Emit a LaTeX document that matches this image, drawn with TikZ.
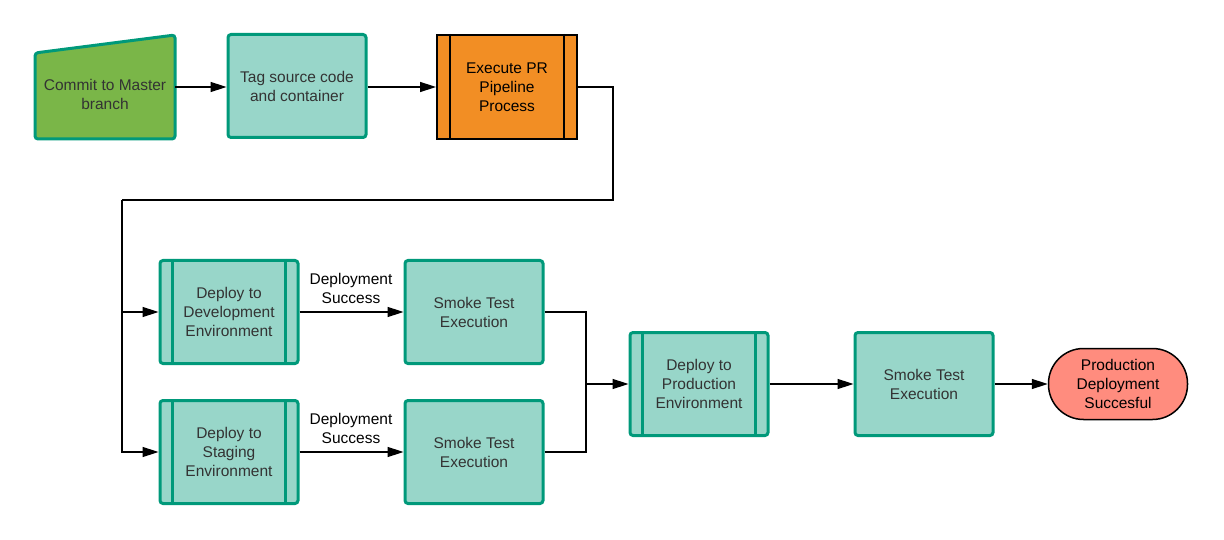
\documentclass[tikz,border=0pt]{standalone}
\usepackage{fontspec}
\setmainfont{Liberation Sans}
\usepackage{tikz}
\usepackage{xcolor}
\usetikzlibrary{arrows, arrows.meta, calc, positioning}

\definecolor{tealedge}{RGB}{0,153,122}
\definecolor{tealfill}{RGB}{152,214,201}
\definecolor{commitgreen}{RGB}{122,182,72}
\definecolor{prorange}{RGB}{242,142,36}
\definecolor{donered}{RGB}{255,140,126}
\definecolor{boxtext}{RGB}{51,51,51}

\begin{document}
\begin{tikzpicture}[x=1pt, y=-1pt,
    every node/.style={font=\fontsize{15.5}{19}\selectfont, align=center},
    task/.style={rectangle, rounded corners=3pt, draw=tealedge, line width=3pt, fill=tealfill,
        text=boxtext, minimum width=138pt, minimum height=103pt},
    prbox/.style={rectangle, draw=black, line width=2pt, fill=prorange,
        minimum width=140pt, minimum height=104pt},
    done/.style={rectangle, rounded corners=35pt, draw=black, line width=1.5pt, fill=donered,
        minimum width=139pt, minimum height=71pt},
    flow/.style={line width=1.5pt, -{Triangle[length=16pt, width=10pt]}},
    wire/.style={line width=1.5pt}]
    \useasboundingbox (0,0) rectangle (1224,540);

    % top row
    \fill[commitgreen, draw=tealedge, line width=3pt, rounded corners=3pt]
        (35,53) -- (175,35) -- (175,139) -- (35,139) -- cycle;
    \node[minimum width=140pt, minimum height=86pt, text=boxtext] (commit) at (105,94) {Commit to Master\\branch};
    \node[task] (tag) at (297,86) {Tag source code\\and container};
    \node[prbox] (pr) at (507,87) {Execute PR\\Pipeline\\Process};

    % deploy row
    \node[task] (dev) at (229,312) {Deploy to\\Development\\Environment};
    \node[task] (smokedev) at (474,312) {Smoke Test\\Execution};
    \node[task] (stage) at (229,452) {Deploy to\\Staging\\Environment};
    \node[task] (smokestage) at (474,452) {Smoke Test\\Execution};
    \node[task] (prod) at (699,384) {Deploy to\\Production\\Environment};
    \node[task] (smokeprod) at (924,384) {Smoke Test\\Execution};
    \node[done] (done) at (1118,384) {Production\\Deployment\\Succesful};

    % inner bars of the process boxes
    \draw[line width=2pt] ($(pr.north west)+(14,0)$) -- ($(pr.south west)+(14,0)$)
        ($(pr.north east)+(-14,0)$) -- ($(pr.south east)+(-14,0)$);
    \foreach \n in {dev, stage, prod}
        \draw[tealedge, line width=3pt] ($(\n.north west)+(14,0)$) -- ($(\n.south west)+(14,0)$)
            ($(\n.north east)+(-14,0)$) -- ($(\n.south east)+(-14,0)$);

    \coordinate (split) at (122,200);
    \coordinate (join) at (586,384);

    \node (lbldev) at (351,288) {Deployment\\Success};
    \node (lblstage) at (351,428) {Deployment\\Success};

    \draw[flow] (commit.east |- 0,87) -- (tag.west |- 0,87);
    \draw[flow] (tag.east |- 0,87) -- (pr.west);
    \draw[wire] (pr.east) -| (613,200) -- (split);
    \draw[flow] (split) |- (dev.west);
    \draw[flow] (split) |- (stage.west);
    \draw[flow] (dev) -- (smokedev);
    \draw[flow] (stage) -- (smokestage);
    \draw[wire] (smokedev.east) -| (join);
    \draw[wire] (smokestage.east) -| (join);
    \draw[flow] (join) -- (prod.west);
    \draw[flow] (prod) -- (smokeprod);
    \draw[flow] (smokeprod) -- (done);
\end{tikzpicture}
\end{document}
